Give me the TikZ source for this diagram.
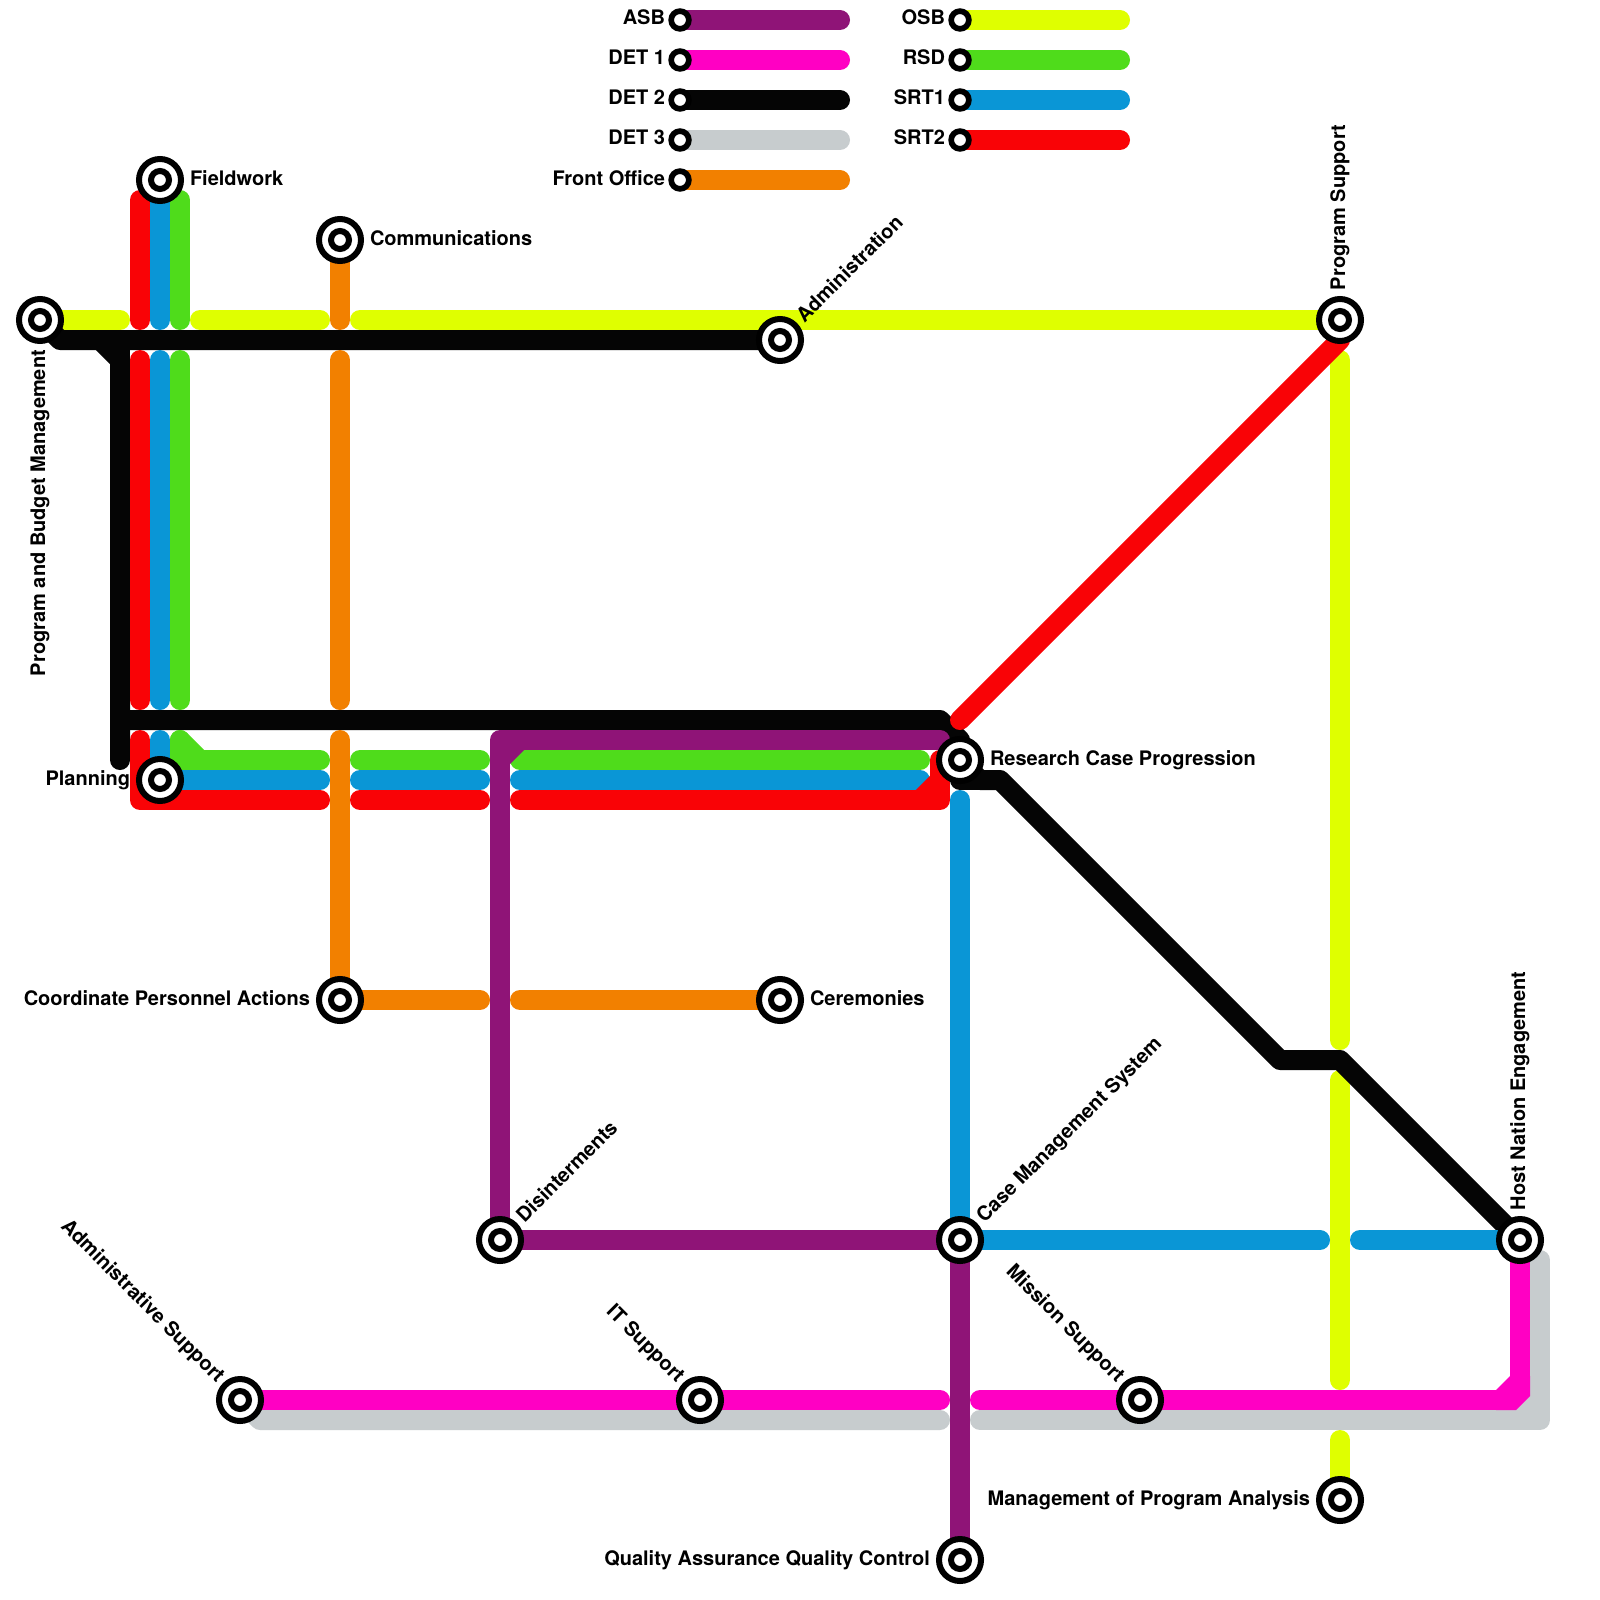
\documentclass[tikz,border=0pt]{standalone}
\usepackage{fontspec}
\setmainfont{TeX Gyre Heros}
\definecolor{cpurple}{HTML}{8F1477}
\definecolor{cpink}{HTML}{FF00C3}
\definecolor{cblack}{HTML}{050505}
\definecolor{cgrey}{HTML}{C7CCCE}
\definecolor{corange}{HTML}{F28000}
\definecolor{cyellow}{HTML}{DFFF00}
\definecolor{cgreen}{HTML}{4FDC1B}
\definecolor{cblue}{HTML}{0A96D6}
\definecolor{cred}{HTML}{F90306}
\pgfdeclarelayer{lines}
\pgfsetlayers{lines,main}
\tikzset{
  ln/.style={line width=20pt,line cap=round,line join=round,draw=#1},
  stnouter/.style={circle,draw=black,fill=white,line width=6pt,minimum size=42pt,inner sep=0pt,outer sep=0pt},
  stninner/.style={circle,draw=black,fill=white,line width=6pt,minimum size=18pt,inner sep=0pt,outer sep=0pt},
  lgdstn/.style={circle,draw=black,fill=white,line width=5.7pt,minimum size=17.7pt,inner sep=0pt,outer sep=0pt},
  lbl/.style={font=\fontsize{20}{24}\selectfont\bfseries,inner sep=0pt,outer sep=0pt,text=black},
}
\newcommand{\mystn}[2]{\node[stnouter] (#1) at (#2) {};\node[stninner] (#1i) at (#1.center) {};}
\begin{document}
\begin{tikzpicture}[x=1pt,y=-1pt]
\useasboundingbox (0,0) rectangle (1600,1600);
\begin{pgfonlayer}{lines}
\fill[white] (0,0) rectangle (1600,1600);
\end{pgfonlayer}
% stations
\mystn{fieldwork}{160,180}
\mystn{comm}{340,240}
\mystn{pbm}{40,320}
\mystn{admin}{780,340}
\mystn{psupport}{1340,320}
\mystn{planning}{160,780}
\mystn{research}{960,760}
\mystn{coord}{340,1000}
\mystn{cerem}{780,1000}
\mystn{disint}{500,1240}
\mystn{casemgmt}{960,1240}
\mystn{host}{1520,1240}
\mystn{adminsup}{240,1400}
\mystn{itsup}{700,1400}
\mystn{missup}{1140,1400}
\mystn{mpa}{1340,1500}
\mystn{qaqc}{960,1560}
% labels
\node[lbl,anchor=base west] (lfieldwork) at (190,185) {Fieldwork};
\node[lbl,anchor=base west] (lcomm) at (370,245) {Communications};
\node[lbl,anchor=base west] (lresearch) at (990,765) {Research Case Progression};
\node[lbl,anchor=base west] (lcerem) at (810,1005) {Ceremonies};
\node[lbl,anchor=base east] (lplanning) at (130,785) {Planning};
\node[lbl,anchor=base east] (lcoord) at (310,1005) {Coordinate Personnel Actions};
\node[lbl,anchor=base east] (lmpa) at (1310,1505) {Management of Program Analysis};
\node[lbl,anchor=base east] (lqaqc) at (930,1565) {Quality Assurance Quality Control};
\node[lbl,anchor=base east,rotate=90] (lpbm) at (45,350) {Program and Budget Management};
\node[lbl,anchor=base west,rotate=90] (lpsupport) at (1345,290) {Program Support};
\node[lbl,anchor=base west,rotate=90] (lhost) at (1525,1210) {Host Nation Engagement};
\node[lbl,anchor=base west,rotate=45] (ladmin) at (804.5,323.5) {Administration};
\node[lbl,anchor=base west,rotate=45] (ldisint) at (524.5,1223.5) {Disinterments};
\node[lbl,anchor=base west,rotate=45] (lcasemgmt) at (984.5,1223.5) {Case Management System};
\node[lbl,anchor=base east,rotate=-45] (ladminsup) at (216.5,1383.5) {Administrative Support};
\node[lbl,anchor=base east,rotate=-45] (litsup) at (676.5,1383.5) {IT Support};
\node[lbl,anchor=base east,rotate=-45] (lmissup) at (1116.5,1383.5) {Mission Support};
% legend
\foreach \nm/\tx/\yy/\cc in {asb/ASB/20/cpurple,det1/DET 1/60/cpink,det2/DET 2/100/cblack,det3/DET 3/140/cgrey,front/Front Office/180/corange}{
  \node[lgdstn] (lg\nm) at (680,\yy) {};
  \node[lbl,anchor=base east] (lt\nm) at (665,\yy+5) {\tx};
  \coordinate (le\nm) at (840,\yy);
  \begin{pgfonlayer}{lines}\draw[ln=\cc] (lg\nm.center) -- (le\nm);\end{pgfonlayer}
}
\foreach \nm/\tx/\yy/\cc in {osb/OSB/20/cyellow,rsd/RSD/60/cgreen,srta/SRT1/100/cblue,srtb/SRT2/140/cred}{
  \node[lgdstn] (lg\nm) at (960,\yy) {};
  \node[lbl,anchor=base east] (lt\nm) at (945,\yy+5) {\tx};
  \coordinate (le\nm) at (1120,\yy);
  \begin{pgfonlayer}{lines}\draw[ln=\cc] (lg\nm.center) -- (le\nm);\end{pgfonlayer}
}
% way points
\coordinate (ya) at (120,320); \coordinate (yb) at (200,320); \coordinate (yc) at (320,320); \coordinate (yd) at (360,320);
\coordinate (ye) at (1340,360); \coordinate (yf) at (1340,1040); \coordinate (yg) at (1340,1080); \coordinate (yh) at (1340,1380); \coordinate (yi) at (1340,1440);
\coordinate (ka) at (60,340); \coordinate (kb) at (100,340); \coordinate (kc) at (120,360); \coordinate (kd) at (120,760); \coordinate (kt) at (120,340);
\coordinate (ke) at (120,720); \coordinate (kf) at (940,720); \coordinate (kfb) at (960,740); \coordinate (kga) at (960,780); \coordinate (kg) at (980,780); \coordinate (kh) at (1000,780);
\coordinate (ki) at (1280,1060); \coordinate (kj) at (1340,1060);
\coordinate (ra) at (140,200); \coordinate (rb) at (140,320); \coordinate (rc) at (140,360); \coordinate (rd) at (140,700);
\coordinate (re) at (140,740); \coordinate (rf) at (140,800); \coordinate (rg) at (320,800); \coordinate (rh) at (360,800); \coordinate (ri) at (480,800);
\coordinate (rj) at (520,800); \coordinate (rk) at (940,800); \coordinate (rl) at (940,760); \coordinate (rm) at (920,800); \coordinate (rn) at (940,780);
\coordinate (ro) at (960,720); \coordinate (rp) at (1340,340);
\coordinate (ba) at (160,200); \coordinate (bb) at (160,320); \coordinate (bc) at (160,360); \coordinate (bd) at (160,700); \coordinate (be) at (160,740);
\coordinate (bf) at (320,780); \coordinate (bg) at (360,780); \coordinate (bh) at (480,780); \coordinate (bi) at (520,780); \coordinate (bj) at (920,780);
\coordinate (bk) at (960,800); \coordinate (bl) at (1320,1240); \coordinate (bm) at (1360,1240);
\coordinate (ga) at (180,200); \coordinate (gb) at (180,320); \coordinate (gc) at (180,360); \coordinate (gd) at (180,700); \coordinate (ge) at (180,740); \coordinate (gl) at (180,760);
\coordinate (gf) at (200,760); \coordinate (gg) at (320,760); \coordinate (gh) at (360,760); \coordinate (gi) at (480,760); \coordinate (gj) at (520,760); \coordinate (gk) at (920,760);
\coordinate (oa) at (340,320); \coordinate (ob) at (340,360); \coordinate (oc) at (340,700); \coordinate (od) at (340,740); \coordinate (oe) at (480,1000); \coordinate (of) at (520,1000);
\coordinate (pa) at (500,740); \coordinate (pb) at (940,740); \coordinate (pc) at (500,760); \coordinate (pd) at (520,740);
\coordinate (va) at (260,1420); \coordinate (vb) at (940,1420); \coordinate (vc) at (980,1420); \coordinate (vd) at (1540,1420); \coordinate (ve) at (1540,1260);
\coordinate (vf) at (1510,1420); \coordinate (vg) at (1540,1390);
\coordinate (ma) at (940,1400); \coordinate (mb) at (980,1400); \coordinate (mc) at (1510,1400); \coordinate (md) at (1520,1390);
\begin{pgfonlayer}{lines}
% DET 3
\draw[ln=cgrey] (adminsup.center) -- (va) -- (vb);
\draw[ln=cgrey] (vc) -- (vd) -- (ve);
\draw[ln=cgrey] (vf) -- (vg);
% DET 1
\draw[ln=cpink] (adminsup.center) -- (ma);
\draw[ln=cpink] (mb) -- (mc);
\draw[ln=cpink] (md) -- (host.center);
\fill[cpink] (1496,1390) -- (1510,1376) -- (1530,1376) -- (1530,1396) -- (1516,1410) -- (1496,1410) -- cycle;
% OSB
\draw[ln=cyellow] (pbm.center) -- (ya);
\draw[ln=cyellow] (yb) -- (yc);
\draw[ln=cyellow] (yd) -- (psupport.center);
\draw[ln=cyellow] (ye) -- (yf);
\draw[ln=cyellow] (yg) -- (yh);
\draw[ln=cyellow] (yi) -- (mpa.center);
% DET 2
\draw[ln=cblack] (pbm.center) -- (ka) -- (admin.center);
\draw[ln=cblack] (kb) -- (kc) -- (kd);
\draw[ln=cblack,line cap=butt] (kt) -- (kd);
\draw[ln=cblack] (ke) -- (kf) -- (kfb) -- (research.center) -- (kg) -- (kh) -- (ki) -- (kj) -- (host.center);
\draw[ln=cblack] (kga) -- (kg);
% RSD
\draw[ln=cgreen] (ga) -- (gb);
\draw[ln=cgreen] (gc) -- (gd);
\draw[ln=cgreen] (ge) -- (gf) -- (gg);
\draw[ln=cgreen] (ge) -- (gl) -- (gf);
\draw[ln=cgreen] (gh) -- (gi);
\draw[ln=cgreen] (gj) -- (gk);
% SRT1
\draw[ln=cblue] (ba) -- (bb);
\draw[ln=cblue] (bc) -- (bd);
\draw[ln=cblue] (be) -- (planning.center) -- (bf);
\draw[ln=cblue] (bg) -- (bh);
\draw[ln=cblue] (bi) -- (bj);
\draw[ln=cblue] (bk) -- (casemgmt.center) -- (bl);
\draw[ln=cblue] (bm) -- (host.center);
% SRT2
\draw[ln=cred] (ra) -- (rb);
\draw[ln=cred] (rc) -- (rd);
\draw[ln=cred] (re) -- (rf) -- (rg);
\draw[ln=cred] (rh) -- (ri);
\draw[ln=cred] (rj) -- (rk) -- (rl);
\draw[ln=cred] (rm) -- (rn);
\draw[ln=cred] (ro) -- (rp) -- (psupport.center);
% Front Office
\draw[ln=corange] (comm.center) -- (oa);
\draw[ln=corange] (ob) -- (oc);
\draw[ln=corange] (od) -- (coord.center) -- (oe);
\draw[ln=corange] (of) -- (cerem.center);
% ASB
\draw[ln=cpurple] (disint.center) -- (pa) -- (pb);
\draw[ln=cpurple] (pc) -- (pd);
\draw[ln=cpurple] (disint.center) -- (casemgmt.center) -- (qaqc.center);
\end{pgfonlayer}
\end{tikzpicture}
\end{document}
